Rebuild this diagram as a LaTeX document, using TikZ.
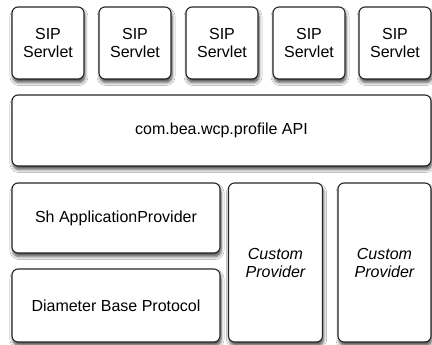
\documentclass[tikz,border=0pt]{standalone}
\usepackage{fontspec}
\setmainfont{Liberation Sans}
\usetikzlibrary{shadows.blur}

\begin{document}
\begin{tikzpicture}[x=1pt,y=-1pt,
  box/.style={draw=black!85,line width=1.1pt,rounded corners=6pt,fill=white,
    blur shadow={shadow xshift=1pt,shadow yshift=-3.5pt,shadow blur steps=6,shadow blur radius=3pt,shadow opacity=70},
    align=center,inner sep=0pt,font=\fontsize{16}{18}\selectfont},
  servlet/.style={box,minimum width=72pt,minimum height=72pt},
  provider/.style={box,minimum width=94pt,minimum height=159pt,font=\fontsize{16}{18}\selectfont\itshape}]
\fill[white] (0,0) rectangle (432,345);
\useasboundingbox (0,0) rectangle (432,345);
% servlets
\node[servlet] (s1) at (48,43) {SIP\\Servlet};
\node[servlet] (s2) at (135,43) {SIP\\Servlet};
\node[servlet] (s3) at (222,43) {SIP\\Servlet};
\node[servlet] (s4) at (309,43) {SIP\\Servlet};
\node[servlet] (s5) at (395,43) {SIP\\Servlet};
% profile API
\node[box,minimum width=419pt,minimum height=71pt] (api) at (221.5,130.5) {com.bea.wcp.profile API};
% providers
\node[box,minimum width=208pt,minimum height=70pt] (sh) at (116,218) {Sh ApplicationProvider};
\node[box,minimum width=208pt,minimum height=73pt] (dia) at (116,305.5) {Diameter Base Protocol};
\node[provider] (c1) at (275.5,262.5) {Custom\\Provider};
\node[provider,minimum width=93pt] (c2) at (384.5,262.5) {Custom\\Provider};
\end{tikzpicture}
\end{document}
